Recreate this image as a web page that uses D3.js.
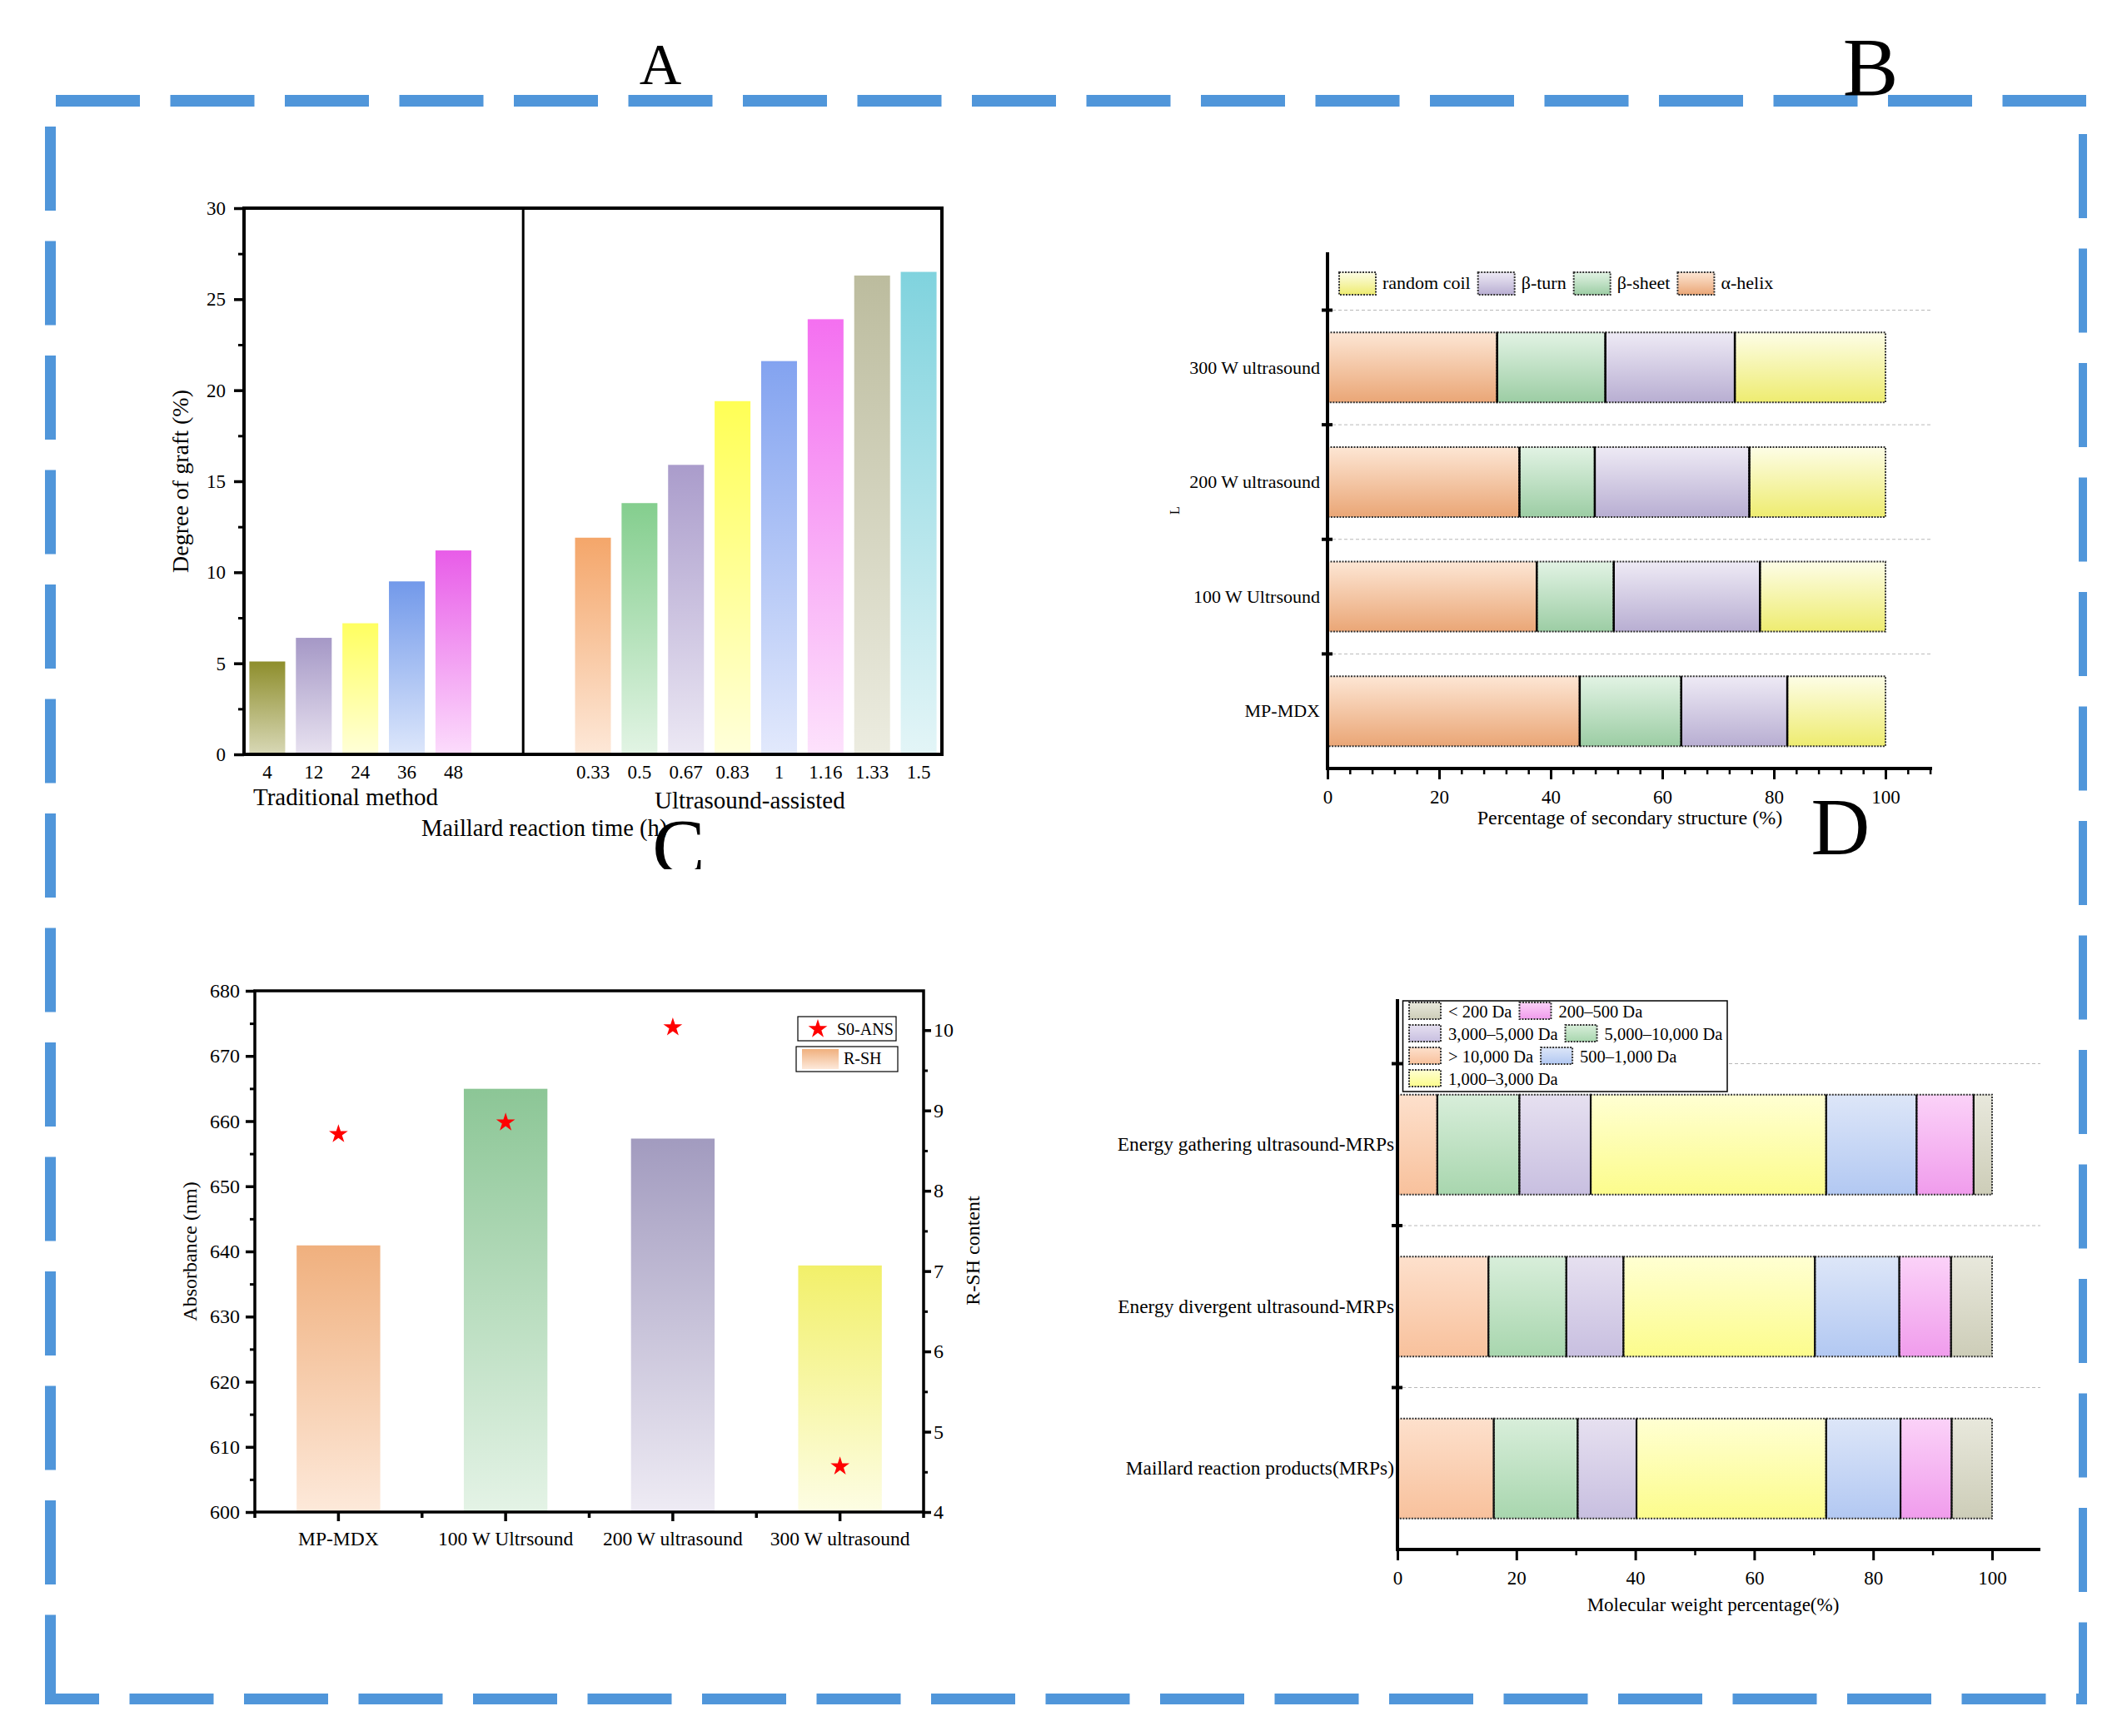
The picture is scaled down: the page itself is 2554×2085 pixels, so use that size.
<!DOCTYPE html>
<html><head><meta charset="utf-8">
<script src="https://cdn.jsdelivr.net/npm/d3@7"></script>
<style>
body{margin:0;background:#fff}
svg{display:block}
text{font-family:"Liberation Serif","Times New Roman",serif;fill:#000}
</style>
</head><body>
<svg id="c" width="2554" height="2085"></svg>
<script>
// ---------------- DATA ----------------
// Panel A: degree of graft
const tradTimes = ["4", "12", "24", "36", "48"];
const tradGraft = [5.1, 6.4, 7.2, 9.5, 11.2];
const usTimes = ["0.33", "0.5", "0.67", "0.83", "1", "1.16", "1.33", "1.5"];
const usGraft = [11.9, 13.8, 15.9, 19.4, 21.6, 23.9, 26.3, 26.5];
const gradeTicks = [0, 5, 10, 15, 20, 25, 30];

// Panel B: secondary structure (%)
const bSamples = ["MP-MDX", "100 W Ultrsound", "200 W ultrasound", "300 W ultrasound"];
const bStructures = ["α-helix", "β-sheet", "β-turn", "random coil"];
const alphaHelix = [45.2, 37.5, 34.4, 30.4];
const betaSheet = [18.2, 13.8, 13.5, 19.4];
const betaTurn = [19.0, 26.2, 27.7, 23.2];
const randomCoil = [17.6, 22.5, 24.4, 27.0];
const bLegendOrder = ["random coil", "β-turn", "β-sheet", "α-helix"];
const pctTicks = [0, 20, 40, 60, 80, 100];

// Panel C: R-SH content (bars) and S0-ANS absorbance (stars)
const cSamples = ["MP-MDX", "100 W Ultrsound", "200 W ultrasound", "300 W ultrasound"];
const rshContent = [7.32, 9.27, 8.65, 7.07];
const s0Ans = [658.0, 659.8, 674.4, 607.0];
const absTicks = [600, 610, 620, 630, 640, 650, 660, 670, 680];
const rshTicks = [4, 5, 6, 7, 8, 9, 10];

// Panel D: molecular weight distribution (%)
const dSamples = ["Maillard reaction products(MRPs)", "Energy divergent ultrasound-MRPs", "Energy gathering ultrasound-MRPs"];
const dFractions = ["> 10,000 Da", "5,000–10,000 Da", "3,000–5,000 Da", "1,000–3,000 Da", "500–1,000 Da", "200–500 Da", "< 200 Da"];
const mwOver10000 = [16.2, 15.3, 6.7];
const mw5000to10000 = [14.1, 13.1, 13.8];
const mw3000to5000 = [9.9, 9.6, 12.0];
const mw1000to3000 = [31.9, 32.2, 39.6];
const mw500to1000 = [12.5, 14.2, 15.2];
const mw200to500 = [8.6, 8.7, 9.6];
const mwUnder200 = [6.8, 6.9, 3.1];
const dLegendRows = [["< 200 Da", "200–500 Da"], ["3,000–5,000 Da", "5,000–10,000 Da"], ["> 10,000 Da", "500–1,000 Da"], ["1,000–3,000 Da"]];

// ---------------- STYLES ----------------
const tradColors = [["#8e8e2c", "#d8d8b6"], ["#a598c6", "#e8e2f0"], ["#ffff60", "#ffffd8"], ["#7299ea", "#dde7fb"], ["#e85ce8", "#fcdcfc"]];
const usColors = [["#f4a66a", "#fde8d8"], ["#84ce8e", "#e2f4e4"], ["#aa9ccb", "#ece8f4"], ["#ffff55", "#ffffda"], ["#83a3f0", "#e2e9fc"], ["#f470f0", "#fde2fc"], ["#bcbc9e", "#ececE0"], ["#80d3de", "#e3f5f7"]];
const bColors = {"α-helix": ["#fde6d4", "#eaa676"], "β-sheet": ["#e2f3e4", "#9ccda4"], "β-turn": ["#eeeaf5", "#b8aed2"], "random coil": ["#fdfde6", "#eeec70"]};
const cColors = [["#f0b07e", "#fde9da"], ["#8cc696", "#e4f3e6"], ["#a29bbf", "#eeebf4"], ["#f2f06a", "#fdfde4"]];
const dColors = {"> 10,000 Da": ["#fde0cc", "#f8c19c"], "5,000–10,000 Da": ["#d8eeda", "#a8d6ae"], "3,000–5,000 Da": ["#e6e0f0", "#c8bfe0"],
  "1,000–3,000 Da": ["#ffffd2", "#fcfc8c"], "500–1,000 Da": ["#dde6f8", "#b2c8f2"], "200–500 Da": ["#fbd2f8", "#f09cec"], "< 200 Da": ["#e8e8dc", "#cdcdb8"]};
const FONT = '"Liberation Serif","Times New Roman",serif';
const BLUE = "#5096da";

const svg = d3.select("#c");
const defs = svg.append("defs");
let gid = 0;
function grad(c) {
  const id = "g" + (gid++);
  const g = defs.append("linearGradient").attr("id", id).attr("x1", 0).attr("y1", 0).attr("x2", 0).attr("y2", 1);
  g.append("stop").attr("offset", "0%").attr("stop-color", c[0]);
  g.append("stop").attr("offset", "100%").attr("stop-color", c[1]);
  return "url(#" + id + ")";
}
function fixAxis(g, size, tw) {
  g.attr("font-family", FONT).attr("font-size", size);
  g.select(".domain").remove();
  g.selectAll(".tick line").attr("stroke", "#000").attr("stroke-width", tw || 3.5);
  g.selectAll(".tick text").attr("fill", "#000");
}
function txt(x, y, s, size, anchor, rot) {
  const t = svg.append("text").attr("font-size", size).attr("text-anchor", anchor || "start").text(s);
  if (rot) t.attr("transform", `translate(${x},${y}) rotate(${rot})`);
  else t.attr("x", x).attr("y", y);
  return t;
}

// ---------------- OUTER DASHED BORDER ----------------
const bd = svg.append("g").attr("stroke", BLUE).attr("stroke-dasharray", "101,36.5");
bd.append("line").attr("x1", 67).attr("x2", 2505).attr("y1", 121).attr("y2", 121).attr("stroke-width", 14);
bd.append("line").attr("x1", 60.5).attr("x2", 60.5).attr("y1", 152).attr("y2", 2047).attr("stroke-width", 13);
bd.append("line").attr("x1", 54).attr("x2", 2505).attr("y1", 2040.5).attr("y2", 2040.5).attr("stroke-width", 13).attr("stroke-dashoffset", 36);
bd.append("line").attr("x1", 2501).attr("x2", 2501).attr("y1", 161).attr("y2", 2047).attr("stroke-width", 10);

// ---------------- PANEL A ----------------
const aKeys = [...tradTimes, "gapA", "gapB", ...usTimes];
const aData = tradTimes.map((k, i) => ({k, v: tradGraft[i], c: tradColors[i]}))
  .concat(usTimes.map((k, i) => ({k, v: usGraft[i], c: usColors[i]})));
const xA = d3.scaleBand().domain(aKeys).range([293, 1131]).paddingInner(0.23).paddingOuter(0.115);
const yA = d3.scaleLinear().domain([0, 30]).range([906, 250]);
svg.append("g").selectAll("rect").data(aData).join("rect")
  .attr("x", d => xA(d.k)).attr("width", xA.bandwidth())
  .attr("y", d => yA(d.v)).attr("height", d => yA(0) - yA(d.v))
  .attr("fill", d => grad(d.c));
let g = svg.append("g").attr("transform", "translate(293,0)")
  .call(d3.axisLeft(yA).tickValues(gradeTicks).tickSize(12).tickPadding(10));
fixAxis(g, 23);
g = svg.append("g").attr("transform", "translate(293,0)")
  .call(d3.axisLeft(yA).tickValues(d3.range(2.5, 30, 5)).tickSize(7).tickFormat(""));
fixAxis(g, 23, 3);
g = svg.append("g").attr("transform", "translate(0,906)")
  .call(d3.axisBottom(xA).tickValues([...tradTimes, ...usTimes]).tickSize(0).tickPadding(13));
fixAxis(g, 23);
svg.append("rect").attr("x", 293).attr("y", 250).attr("width", 838).attr("height", 656)
  .attr("fill", "none").attr("stroke", "#000").attr("stroke-width", 4);
const divX = xA("gapA") + xA.step() * (1 - xA.paddingInner() / 2);
svg.append("line").attr("x1", divX).attr("x2", divX).attr("y1", 250).attr("y2", 906).attr("stroke", "#000").attr("stroke-width", 3);
txt(226, 578, "Degree of graft (%)", 28, "middle", -90);
txt(304, 967, "Traditional method", 29);
txt(786, 971, "Ultrasound-assisted", 29);
txt(506, 1004, "Maillard reaction time (h)", 28.5);

// ---------------- PANEL B ----------------
const xB = d3.scaleLinear().domain([0, 100]).range([1594, 2264]);
const yB = d3.scaleBand().domain(bSamples).range([923, 372.5]).paddingInner(0.39).paddingOuter(0.195);
const bRows = bSamples.map((s, i) => ({sample: s, "α-helix": alphaHelix[i], "β-sheet": betaSheet[i], "β-turn": betaTurn[i], "random coil": randomCoil[i]}));
const bStack = d3.stack().keys(bStructures)(bRows);
const bBounds = d3.range(1, 5).map(k => yB.range()[0] - k * yB.step());
svg.append("g").selectAll("line").data(bBounds).join("line")
  .attr("x1", 1600).attr("x2", 2320).attr("y1", d => d).attr("y2", d => d)
  .attr("stroke", "#b8b8b8").attr("stroke-width", 1).attr("stroke-dasharray", "4,3");
const bG = svg.append("g");
bStack.forEach(series => {
  const fill = grad(bColors[series.key]);
  bG.append("g").selectAll("rect").data(series).join("rect")
    .attr("x", d => xB(d[0])).attr("width", d => xB(d[1]) - xB(d[0]))
    .attr("y", d => yB(d.data.sample)).attr("height", yB.bandwidth())
    .attr("fill", fill).attr("stroke", "#333").attr("stroke-width", 2).attr("stroke-dasharray", "2,1.5");
});
bStack.slice(0, -1).forEach(series => {
  bG.append("g").selectAll("line").data(series).join("line")
    .attr("x1", d => xB(d[1])).attr("x2", d => xB(d[1]))
    .attr("y1", d => yB(d.data.sample)).attr("y2", d => yB(d.data.sample) + yB.bandwidth())
    .attr("stroke", "#000").attr("stroke-width", 2.5);
});
svg.append("line").attr("x1", 1594).attr("x2", 1594).attr("y1", 303).attr("y2", 925).attr("stroke", "#000").attr("stroke-width", 4);
svg.append("line").attr("x1", 1592).attr("x2", 2320).attr("y1", 923).attr("y2", 923).attr("stroke", "#000").attr("stroke-width", 4);
svg.append("g").selectAll("line").data(bBounds).join("line")
  .attr("x1", 1587).attr("x2", 1600).attr("y1", d => d).attr("y2", d => d).attr("stroke", "#000").attr("stroke-width", 4);
g = svg.append("g").attr("transform", "translate(0,923)")
  .call(d3.axisBottom(xB).tickValues(pctTicks).tickSize(13).tickPadding(12.7));
fixAxis(g, 23, 3);
g = svg.append("g").attr("transform", "translate(0,923)")
  .call(d3.axisBottom(xB).tickValues(d3.range(4, 109, 4).filter(v => v % 20 !== 0)).tickSize(7).tickFormat(""));
fixAxis(g, 23, 2.5);
g = svg.append("g").attr("transform", "translate(1594,0)")
  .call(d3.axisLeft(yB).tickSize(0).tickPadding(9));
fixAxis(g, 22);
g.selectAll(".tick text").attr("dy", "0.33em");
txt(1957, 990, "Percentage of secondary structure (%)", 24, "middle");
txt(1416, 613, "L", 16, "middle", -90);
let lx = 1608;
bLegendOrder.forEach(k => {
  svg.append("rect").attr("x", lx).attr("y", 327).attr("width", 44).attr("height", 27)
    .attr("fill", grad(bColors[k])).attr("stroke", "#333").attr("stroke-width", 2).attr("stroke-dasharray", "2,1.5");
  const t = txt(lx + 52, 347, k, 22);
  lx = lx + 52 + t.node().getComputedTextLength() + 9;
});

// ---------------- PANEL C ----------------
const xC = d3.scaleBand().domain(cSamples).range([306, 1109]).paddingInner(0.5).paddingOuter(0.25);
const yCL = d3.scaleLinear().domain([600, 680]).range([1816, 1190]);
const yCR = d3.scaleLinear().domain([4, 10.49]).range([1816, 1190]);
svg.append("g").selectAll("rect").data(cSamples).join("rect")
  .attr("x", d => xC(d)).attr("width", xC.bandwidth())
  .attr("y", (d, i) => yCR(rshContent[i])).attr("height", (d, i) => yCR(4) - yCR(rshContent[i]))
  .attr("fill", (d, i) => grad(cColors[i]));
const star = d3.symbol().type(d3.symbolStar).size(160);
svg.append("g").selectAll("path").data(cSamples).join("path")
  .attr("d", star).attr("fill", "#ff0000")
  .attr("transform", (d, i) => `translate(${xC(d) + xC.bandwidth() / 2},${yCL(s0Ans[i])})`);
svg.append("rect").attr("x", 306).attr("y", 1190).attr("width", 803).attr("height", 626)
  .attr("fill", "none").attr("stroke", "#000").attr("stroke-width", 3.5);
g = svg.append("g").attr("transform", "translate(306,0)")
  .call(d3.axisLeft(yCL).tickValues(absTicks).tickSize(11).tickPadding(7));
fixAxis(g, 24);
g = svg.append("g").attr("transform", "translate(306,0)")
  .call(d3.axisLeft(yCL).tickValues(d3.range(605, 680, 10)).tickSize(6).tickFormat(""));
fixAxis(g, 24, 3);
g = svg.append("g").attr("transform", "translate(1109,0)")
  .call(d3.axisRight(yCR).tickValues(rshTicks).tickFormat(d3.format("d")).tickSize(9).tickPadding(3));
fixAxis(g, 24);
g = svg.append("g").attr("transform", "translate(1109,0)")
  .call(d3.axisRight(yCR).tickValues(d3.range(4.5, 10.5, 1)).tickSize(5).tickFormat(""));
fixAxis(g, 24, 3);
g = svg.append("g").attr("transform", "translate(0,1816)")
  .call(d3.axisBottom(xC).tickSize(11).tickPadding(12));
fixAxis(g, 23.5);
const cEdges = d3.range(0, 5).map(k => xC.range()[0] + k * xC.step());
svg.append("g").selectAll("line").data(cEdges).join("line")
  .attr("x1", d => d).attr("x2", d => d).attr("y1", 1816).attr("y2", 1823).attr("stroke", "#000").attr("stroke-width", 3.5);
txt(236, 1503, "Absorbance (nm)", 24, "middle", -90);
txt(1176, 1502, "R-SH content", 24, "middle", -90);
svg.append("rect").attr("x", 958).attr("y", 1221).attr("width", 118).attr("height", 29).attr("fill", "#fff").attr("stroke", "#000").attr("stroke-width", 1.2);
svg.append("path").attr("d", star).attr("fill", "#ff0000").attr("transform", "translate(982,1236)");
txt(1005, 1243, "S0-ANS", 20);
svg.append("rect").attr("x", 956).attr("y", 1257).attr("width", 122).attr("height", 30).attr("fill", "#fff").attr("stroke", "#000").attr("stroke-width", 1.2);
svg.append("rect").attr("x", 963).attr("y", 1260).attr("width", 44).attr("height", 24).attr("fill", grad(cColors[0]));
txt(1013, 1278, "R-SH", 20);

// ---------------- PANEL D ----------------
const xD = d3.scaleLinear().domain([0, 100]).range([1678, 2392]);
const yD = d3.scaleBand().domain(dSamples).range([1861, 1277.5]).paddingInner(0.383).paddingOuter(0.1915);
const dSeriesVals = [mwOver10000, mw5000to10000, mw3000to5000, mw1000to3000, mw500to1000, mw200to500, mwUnder200];
const dRows = dSamples.map((s, i) => {
  const r = {sample: s};
  dFractions.forEach((f, j) => r[f] = dSeriesVals[j][i]);
  return r;
});
const dStack = d3.stack().keys(dFractions)(dRows);
const dBounds = d3.range(1, 4).map(k => yD.range()[0] - k * yD.step());
svg.append("g").selectAll("line").data(dBounds).join("line")
  .attr("x1", 1684).attr("x2", 2450).attr("y1", d => d).attr("y2", d => d)
  .attr("stroke", "#b8b8b8").attr("stroke-width", 1).attr("stroke-dasharray", "4,3");
const dG = svg.append("g");
dStack.forEach(series => {
  const fill = grad(dColors[series.key]);
  dG.append("g").selectAll("rect").data(series).join("rect")
    .attr("x", d => xD(d[0])).attr("width", d => xD(d[1]) - xD(d[0]))
    .attr("y", d => yD(d.data.sample)).attr("height", yD.bandwidth())
    .attr("fill", fill).attr("stroke", "#333").attr("stroke-width", 2).attr("stroke-dasharray", "2,1.5");
});
dStack.slice(0, -1).forEach(series => {
  dG.append("g").selectAll("line").data(series).join("line")
    .attr("x1", d => xD(d[1])).attr("x2", d => xD(d[1]))
    .attr("y1", d => yD(d.data.sample)).attr("y2", d => yD(d.data.sample) + yD.bandwidth())
    .attr("stroke", "#111").attr("stroke-width", 2.2);
});
svg.append("line").attr("x1", 1678).attr("x2", 1678).attr("y1", 1200).attr("y2", 1863).attr("stroke", "#000").attr("stroke-width", 4);
svg.append("line").attr("x1", 1676).attr("x2", 2450).attr("y1", 1861).attr("y2", 1861).attr("stroke", "#000").attr("stroke-width", 4);
svg.append("g").selectAll("line").data(dBounds).join("line")
  .attr("x1", 1671).attr("x2", 1684).attr("y1", d => d).attr("y2", d => d).attr("stroke", "#000").attr("stroke-width", 4);
g = svg.append("g").attr("transform", "translate(0,1861)")
  .call(d3.axisBottom(xD).tickValues(pctTicks).tickSize(13).tickPadding(12.7));
fixAxis(g, 23, 3);
g = svg.append("g").attr("transform", "translate(0,1861)")
  .call(d3.axisBottom(xD).tickValues(d3.range(10, 100, 20)).tickSize(7).tickFormat(""));
fixAxis(g, 23, 2.5);
g = svg.append("g").attr("transform", "translate(1678,0)")
  .call(d3.axisLeft(yD).tickSize(0).tickPadding(4));
fixAxis(g, 23.4);
g.selectAll(".tick text").attr("dy", "0.33em");
txt(2057, 1935, "Molecular weight percentage(%)", 23, "middle");
svg.append("rect").attr("x", 1684.5).attr("y", 1202).attr("width", 389.5).attr("height", 109)
  .attr("fill", "#fff").attr("stroke", "#000").attr("stroke-width", 1.5);
dLegendRows.forEach((row, ri) => {
  let x = 1692;
  const y = 1204 + ri * 27;
  row.forEach(k => {
    svg.append("rect").attr("x", x).attr("y", y).attr("width", 38).attr("height", 20)
      .attr("fill", grad(dColors[k])).attr("stroke", "#333").attr("stroke-width", 2).attr("stroke-dasharray", "2,1.5");
    const t = txt(x + 47, y + 18, k, 20.5);
    x = x + 47 + t.node().getComputedTextLength() + 9;
  });
});

// ---------------- PANEL LETTERS ----------------
txt(793, 101, "A", 70, "middle");
txt(2246, 114, "B", 100, "middle");
defs.append("clipPath").attr("id", "clipC").append("rect").attr("x", 700).attr("y", 950).attr("width", 250).attr("height", 94);
txt(815, 1050, "C", 95, "middle").attr("clip-path", "url(#clipC)");
txt(2210, 1026, "D", 98, "middle");
</script>
</body></html>
